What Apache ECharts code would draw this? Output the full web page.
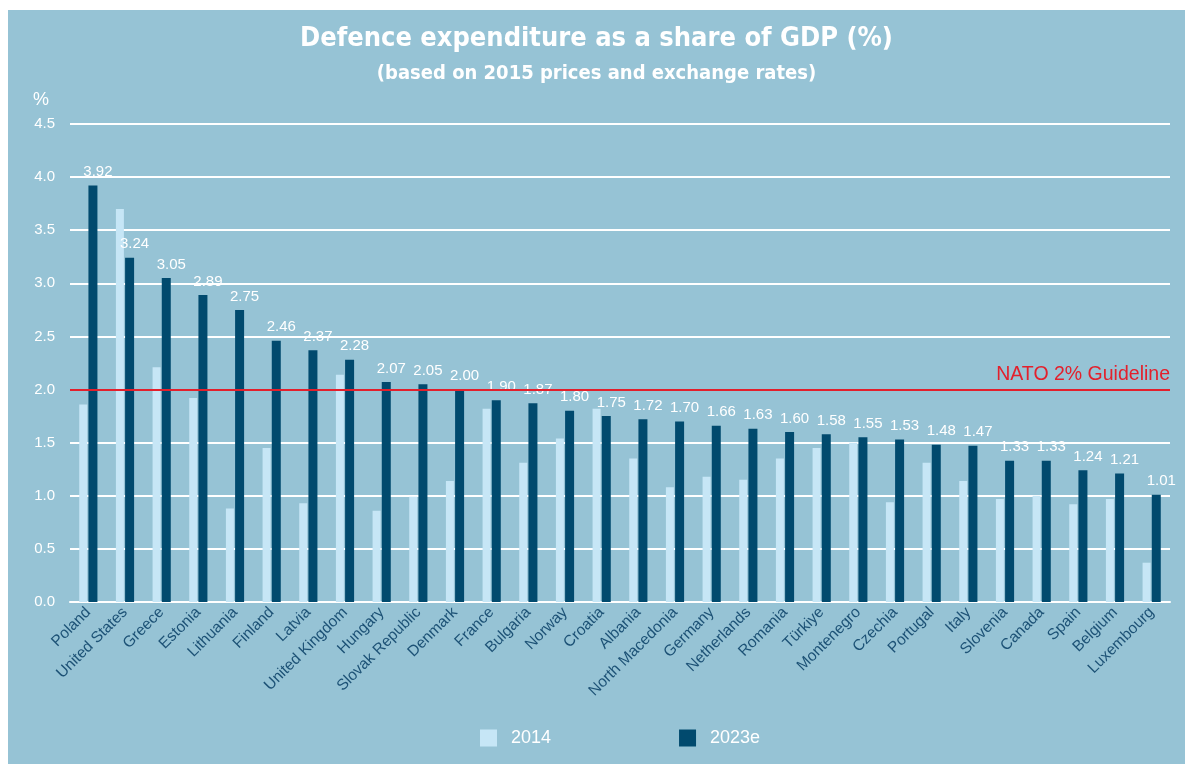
<!DOCTYPE html>
<html>
<head>
<meta charset="utf-8">
<script src="https://cdn.jsdelivr.net/npm/echarts@6/dist/echarts.min.js"></script>
<style>
  html, body { margin: 0; padding: 0; background: #ffffff; width: 1185px; height: 764px; overflow: hidden; }
  #chart { position: absolute; left: 8px; top: 10px; width: 1177px; height: 754px; }
</style>
</head>
<body>
<div id="chart"></div>
<script>
const categories = ["Poland","United States","Greece","Estonia","Lithuania","Finland","Latvia","United Kingdom","Hungary","Slovak Republic","Denmark","France","Bulgaria","Norway","Croatia","Albania","North Macedonia","Germany","Netherlands","Romania","Türkiye","Montenegro","Czechia","Portugal","Italy","Slovenia","Canada","Spain","Belgium","Luxembourg"];
const values2014 = [1.86,3.70,2.21,1.92,0.88,1.45,0.93,2.14,0.86,0.99,1.14,1.82,1.31,1.54,1.82,1.35,1.08,1.18,1.15,1.35,1.45,1.50,0.94,1.31,1.14,0.97,1.00,0.92,0.97,0.37];
const values2023 = [3.92,3.24,3.05,2.89,2.75,2.46,2.37,2.28,2.07,2.05,2.00,1.90,1.87,1.80,1.75,1.72,1.70,1.66,1.63,1.60,1.58,1.55,1.53,1.48,1.47,1.33,1.33,1.24,1.21,1.01];
const seriesNames = ["2014", "2023e"];
const yTicks = { min: 0, max: 4.5, interval: 0.5 };
const guideline = 2.0;
const guidelineLabel = "NATO 2% Guideline";
const titleText = "Defence expenditure as a share of GDP (%)";
const subtitleText = "(based on 2015 prices and exchange rates)";

const chart = echarts.init(document.getElementById('chart'), null, { renderer: 'canvas' });
const option = {
  backgroundColor: '#96c3d5',
  animation: false,
  title: {
    text: titleText,
    subtext: subtitleText,
    left: 'center',
    top: 10,
    itemGap: 12,
    textStyle: { color: '#ffffff', fontFamily: 'DejaVu Sans Condensed', fontWeight: 'bold', fontSize: 27 },
    subtextStyle: { color: '#ffffff', fontFamily: 'DejaVu Sans Condensed', fontWeight: 'bold', fontSize: 20 }
  },
  graphic: [{
    type: 'text', left: 25, top: 81,
    style: { text: '%', fill: '#ffffff', font: '18px "Liberation Sans", Arial, sans-serif' }
  }],
  legend: {
    data: seriesNames,
    left: 467,
    bottom: 12,
    itemWidth: 17,
    itemHeight: 17,
    itemGap: 128,
    icon: 'rect',
    textStyle: { color: '#ffffff', fontSize: 18, fontFamily: 'Liberation Sans, Arial, sans-serif', padding: [0, 0, 0, 9] }
  },
  grid: { left: 62, right: 15, top: 114, bottom: 162, containLabel: false },
  xAxis: {
    type: 'category',
    data: categories,
    axisLine: { show: true, lineStyle: { color: '#ffffff', width: 2 } },
    axisTick: { show: false },
    axisLabel: {
      rotate: 45, interval: 0, margin: 8,
      color: '#1d5276', fontSize: 15.5, fontFamily: 'Liberation Sans, Arial, sans-serif'
    }
  },
  yAxis: {
    type: 'value',
    min: yTicks.min, max: yTicks.max, interval: yTicks.interval,
    axisLine: { show: false },
    axisTick: { show: false },
    splitLine: { lineStyle: { color: '#ffffff', width: 2 } },
    axisLabel: {
      color: '#ffffff', fontSize: 15, margin: 15,
      fontFamily: 'Liberation Sans, Arial, sans-serif',
      formatter: v => v.toFixed(1)
    }
  },
  series: [
    {
      name: seriesNames[0], type: 'bar', data: values2014,
      barWidth: 8, barGap: '15%',
      itemStyle: { color: '#c6e6f6' }
    },
    {
      name: seriesNames[1], type: 'bar', data: values2023,
      barWidth: 9,
      itemStyle: { color: '#014a6e' },
      label: {
        show: true, position: 'top', distance: 6, offset: [5, 0],
        color: '#ffffff', fontSize: 15, fontFamily: 'Liberation Sans, Arial, sans-serif',
        formatter: p => p.value.toFixed(2)
      },
      markLine: {
        silent: true, symbol: 'none',
        lineStyle: { color: '#e3202c', width: 2, type: 'solid' },
        label: {
          show: true, position: 'insideEndTop', formatter: guidelineLabel,
          color: '#e3202c', fontSize: 19.5, fontFamily: 'Liberation Sans, Arial, sans-serif', distance: [0, 5]
        },
        data: [{ yAxis: guideline }]
      }
    }
  ]
};
chart.setOption(option);
</script>
</body>
</html>
